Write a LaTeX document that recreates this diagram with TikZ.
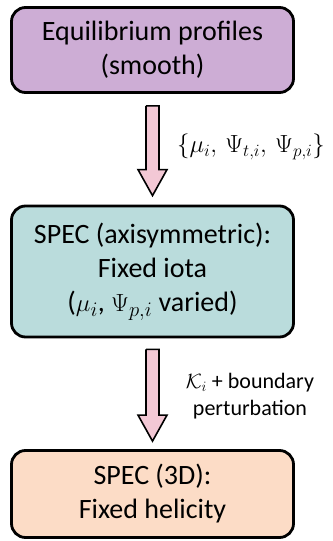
\documentclass[tikz,border=0pt]{standalone}
\usepackage{amsmath}
\usepackage{amssymb}
\usepackage{fontspec}
\setmainfont{Carlito}
\usepackage{tikz}
\usetikzlibrary{calc, positioning}

\definecolor{equilfill}{HTML}{CDADD5}
\definecolor{axisymfill}{HTML}{BADCDC}
\definecolor{helicfill}{HTML}{FCDCC6}
\definecolor{arrowpink}{HTML}{F3C8D5}

\tikzset{
  stagebox/.style={draw=black, line width=2.8bp, rounded corners=14bp,
    minimum width=282bp, align=center, inner sep=0pt,
    font=\fontsize{28bp}{34bp}\selectfont},
  fatarrow/.style={draw=black, line width=1.6bp, fill=arrowpink, to path={
    ($(\tikztostart)+(-6.5,0)$) -- ($(\tikztotarget)+(-6.5,-26)$)
    -- ($(\tikztotarget)+(-14.5,-26)$) -- (\tikztotarget)
    -- ($(\tikztotarget)+(14.5,-26)$) -- ($(\tikztotarget)+(6.5,-26)$)
    -- ($(\tikztostart)+(6.5,0)$) -- ($(\tikztostart)+(-6.5,0)$)}},
  steplabel/.style={align=center, inner sep=0pt}
}

\begin{document}
\begin{tikzpicture}[x=1bp,y=-1bp]
\useasboundingbox (0,0) rectangle (332,541);

%boxes
\node[stagebox, fill=equilfill, minimum height=85bp] (equil) at (152.5,50)
  {Equilibrium profiles\\(smooth)};
\node[stagebox, fill=axisymfill, minimum height=131bp] (axisym) at (152.5,271.5)
  {SPEC (axisymmetric):\\Fixed iota\\($\mu_i$, $\Psi_{p,i}$ varied)};
\node[stagebox, fill=helicfill, minimum height=87bp] (helic) at (152.5,494)
  {SPEC (3D):\\Fixed helicity};

%arrows
\draw[fatarrow] ([yshift=-12bp]equil.south) to ([yshift=9bp]axisym.north);
\draw[fatarrow] ([yshift=-11bp]axisym.south) to ([yshift=8bp]helic.north);

%labels
\node[steplabel, font=\fontsize{26bp}{30bp}\selectfont] (lab1) at (251,147)
  {$\{\mu_i,\,\Psi_{t,i},\,\Psi_{p,i}\}$};
\node[steplabel, font=\fontsize{22bp}{27bp}\selectfont] (lab2) at (250,396)
  {$\mathcal{K}_i$ + boundary\\perturbation};
\end{tikzpicture}
\end{document}
